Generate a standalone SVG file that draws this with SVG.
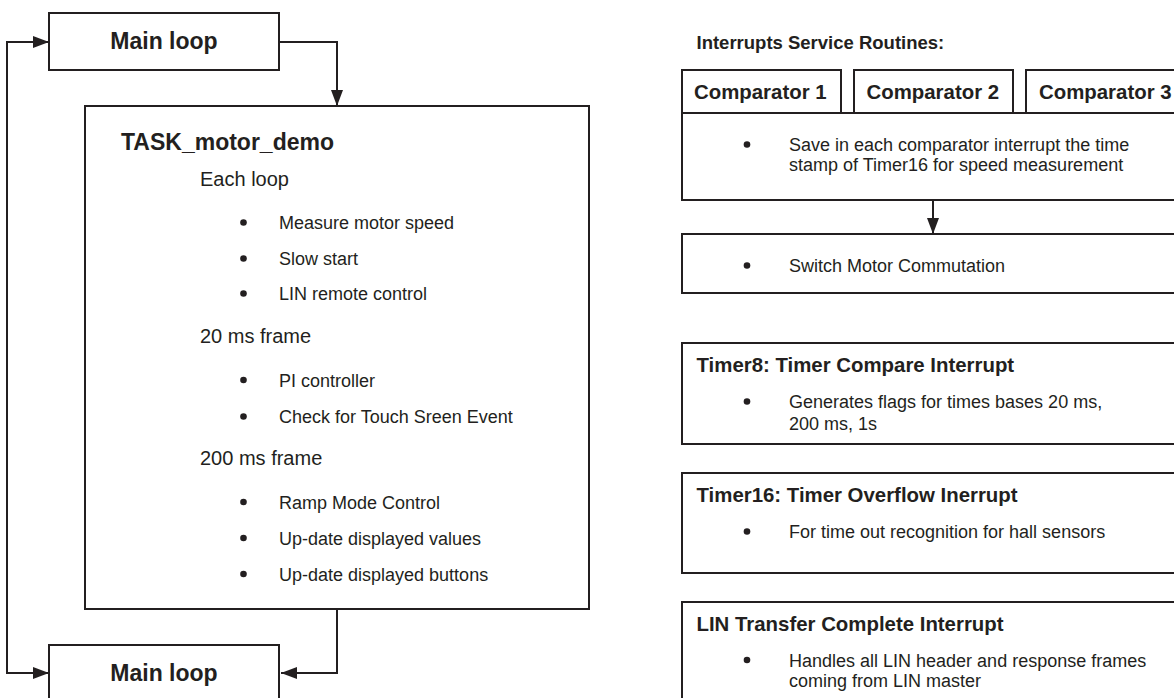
<svg xmlns="http://www.w3.org/2000/svg" width="1174" height="698" viewBox="0 0 1174 698">
  <style>
    .box { fill: #ffffff; stroke: #231f20; stroke-width: 2; }
    .wire { fill: none; stroke: #231f20; stroke-width: 2; }
    text { font-family: "Liberation Sans", Arial, sans-serif; fill: #231f20; }
    .h1 { font-size: 23px; font-weight: bold; }
    .h2 { font-size: 20.4px; font-weight: bold; }
    .h3 { font-size: 18.5px; font-weight: bold; }
    .sec { font-size: 20px; }
    .item { font-size: 18px; }
    .dot { fill: #231f20; }
  </style>
  <defs>
    <marker id="arrow" markerUnits="userSpaceOnUse" markerWidth="16" markerHeight="12" refX="16" refY="6" orient="auto-start-reverse">
      <path d="M0,0 L16,6 L0,12 z" fill="#231f20"/>
    </marker>
  </defs>

  <rect width="1174" height="698" fill="#ffffff"/>

  <!-- connectors -->
  <g id="connectors">
    <path class="wire" d="M49,42 H7 V673 H49" marker-start="url(#arrow)" marker-end="url(#arrow)"/>
    <path class="wire" d="M279,42 H337 V106" marker-end="url(#arrow)"/>
    <path class="wire" d="M337,609 V673 H281" marker-end="url(#arrow)"/>
    <path class="wire" d="M933,200 V234" marker-end="url(#arrow)"/>
  </g>

  <!-- main loop (top) -->
  <g id="main-loop-top">
    <rect class="box" x="49" y="13" width="230" height="57"/>
    <text class="h1" x="164" y="49" text-anchor="middle">Main loop</text>
  </g>

  <!-- task box -->
  <g id="task-motor-demo">
    <rect class="box" x="85" y="106" width="504" height="503"/>
    <text class="h1" x="121" y="150">TASK_motor_demo</text>
    <text class="sec" x="200" y="186">Each loop</text>
    <circle class="dot" cx="243.5" cy="222.5" r="3.3"/>
    <text class="item" x="279" y="229">Measure motor speed</text>
    <circle class="dot" cx="243.5" cy="258.5" r="3.3"/>
    <text class="item" x="279" y="265">Slow start</text>
    <circle class="dot" cx="243.5" cy="293.5" r="3.3"/>
    <text class="item" x="279" y="300">LIN remote control</text>
    <text class="sec" x="200" y="343">20 ms frame</text>
    <circle class="dot" cx="243.5" cy="380" r="3.3"/>
    <text class="item" x="279" y="387">PI controller</text>
    <circle class="dot" cx="243.5" cy="416.5" r="3.3"/>
    <text class="item" x="279" y="423">Check for Touch Sreen Event</text>
    <text class="sec" x="200" y="465">200 ms frame</text>
    <circle class="dot" cx="243.5" cy="502" r="3.3"/>
    <text class="item" x="279" y="509">Ramp Mode Control</text>
    <circle class="dot" cx="243.5" cy="538" r="3.3"/>
    <text class="item" x="279" y="545">Up-date displayed values</text>
    <circle class="dot" cx="243.5" cy="574" r="3.3"/>
    <text class="item" x="279" y="581">Up-date displayed buttons</text>
  </g>

  <!-- main loop (bottom) -->
  <g id="main-loop-bottom">
    <rect class="box" x="49" y="645" width="230" height="70"/>
    <text class="h1" x="164" y="681" text-anchor="middle">Main loop</text>
  </g>

  <!-- interrupt service routines -->
  <text class="h3" x="696.5" y="48.5">Interrupts Service Routines:</text>

  <g id="comparator-1">
    <rect class="box" x="682" y="70" width="159" height="43"/>
    <text class="h2" x="694" y="99">Comparator 1</text>
  </g>
  <g id="comparator-2">
    <rect class="box" x="854" y="70" width="159" height="43"/>
    <text class="h2" x="866.5" y="99">Comparator 2</text>
  </g>
  <g id="comparator-3">
    <rect class="box" x="1026" y="70" width="160" height="43"/>
    <text class="h2" x="1039" y="99">Comparator 3</text>
  </g>

  <g id="comparator-isr">
    <rect class="box" x="682" y="113" width="504" height="87"/>
    <circle class="dot" cx="747" cy="144.5" r="3.3"/>
    <text class="item" x="789" y="151">Save in each comparator interrupt the time</text>
    <text class="item" x="789" y="171">stamp of Timer16 for speed measurement</text>
  </g>

  <g id="commutation">
    <rect class="box" x="682" y="234" width="504" height="59"/>
    <circle class="dot" cx="747" cy="265.5" r="3.3"/>
    <text class="item" x="789" y="272">Switch Motor Commutation</text>
  </g>

  <g id="timer8-isr">
    <rect class="box" x="682" y="343" width="504" height="101"/>
    <text class="h2" x="696.5" y="372">Timer8: Timer Compare Interrupt</text>
    <circle class="dot" cx="747" cy="401.5" r="3.3"/>
    <text class="item" x="789" y="408">Generates flags for times bases 20 ms,</text>
    <text class="item" x="789" y="430">200 ms, 1s</text>
  </g>

  <g id="timer16-isr">
    <rect class="box" x="682" y="473" width="504" height="100"/>
    <text class="h2" x="696.5" y="502">Timer16: Timer Overflow Inerrupt</text>
    <circle class="dot" cx="747" cy="531.5" r="3.3"/>
    <text class="item" x="789" y="538">For time out recognition for hall sensors</text>
  </g>

  <g id="lin-isr">
    <rect class="box" x="682" y="602" width="504" height="110"/>
    <text class="h2" x="696.5" y="631">LIN Transfer Complete Interrupt</text>
    <circle class="dot" cx="747" cy="660" r="3.3"/>
    <text class="item" x="789" y="667">Handles all LIN header and response frames</text>
    <text class="item" x="789" y="687">coming from LIN master</text>
  </g>
</svg>
